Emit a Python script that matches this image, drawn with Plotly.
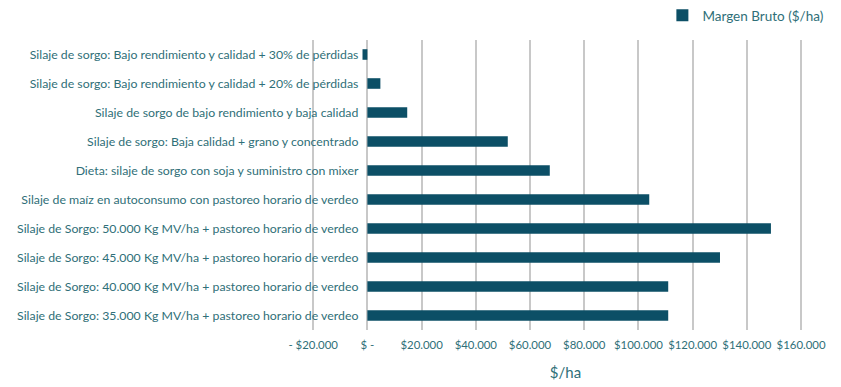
import plotly.graph_objects as go

categories = [
    "Silaje de sorgo: Bajo rendimiento y calidad + 30% de pérdidas",
    "Silaje de sorgo: Bajo rendimiento y calidad + 20% de pérdidas",
    "Silaje de sorgo de bajo rendimiento y baja calidad",
    "Silaje de sorgo: Baja calidad + grano y concentrado",
    "Dieta: silaje de sorgo con soja y suministro con mixer",
    "Silaje de maíz en autoconsumo con pastoreo horario de verdeo",
    "Silaje de Sorgo: 50.000 Kg MV/ha + pastoreo horario de verdeo",
    "Silaje de Sorgo: 45.000 Kg MV/ha + pastoreo horario de verdeo",
    "Silaje de Sorgo: 40.000 Kg MV/ha + pastoreo horario de verdeo",
    "Silaje de Sorgo: 35.000 Kg MV/ha + pastoreo horario de verdeo",
]
margen_bruto = [-1800, 4800, 14700, 51800, 67300, 104000, 148900, 130100, 111000, 111000]

tick_vals = [-20000, 0, 20000, 40000, 60000, 80000, 100000, 120000, 140000, 160000]
tick_text = ["- $20.000", "$ -", "$20.000", "$40.000", "$60.000", "$80.000",
             "$100.000", "$120.000", "$140.000", "$160.000"]

text_color = "#2f6f78"
bar_color = "#0c4f66"

fig = go.Figure()
fig.add_trace(go.Bar(
    y=categories, x=margen_bruto, orientation="h",
    name="Margen Bruto ($/ha)",
    marker=dict(color=bar_color, line=dict(width=0)),
))

L, R, T, B = 311, 21, 40, 57
W, H = 841, 387
xmin, xmax = -20800, 167000
zero_pos = (0 - xmin) / (xmax - xmin)

fig.update_layout(
    width=W, height=H,
    margin=dict(l=L, r=R, t=T, b=B, autoexpand=False),
    paper_bgcolor="white", plot_bgcolor="white",
    font=dict(family="Lato", size=12.3, color=text_color),
    bargap=0.635,
    showlegend=True,
    legend=dict(xref="container", yref="container", x=0.985, y=1.005,
                xanchor="right", yanchor="top", font=dict(size=13.5, color=text_color),
                itemwidth=30),
    xaxis=dict(
        range=[xmin, xmax], tickvals=tick_vals, ticktext=tick_text,
        showgrid=True, gridcolor="#c8c8c8", gridwidth=1.5,
        zeroline=True, zerolinecolor="#c8c8c8", zerolinewidth=1.5,
        showline=False, ticks="", ticklabelstandoff=7,
        tickfont=dict(size=11.4, color=text_color),
        title=dict(text="$/ha", font=dict(size=15, color=text_color), standoff=17),
        automargin=False, fixedrange=True,
    ),
    yaxis=dict(
        anchor="free", position=zero_pos,
        autorange="reversed", showgrid=False, zeroline=False, showline=False,
        ticks="", ticklabelstandoff=9, tickfont=dict(size=12.3, color=text_color),
        automargin=False, fixedrange=True,
    ),
)

fig.write_html("out.html", config={"displayModeBar": False},
               post_script="document.body.style.margin='0';")
